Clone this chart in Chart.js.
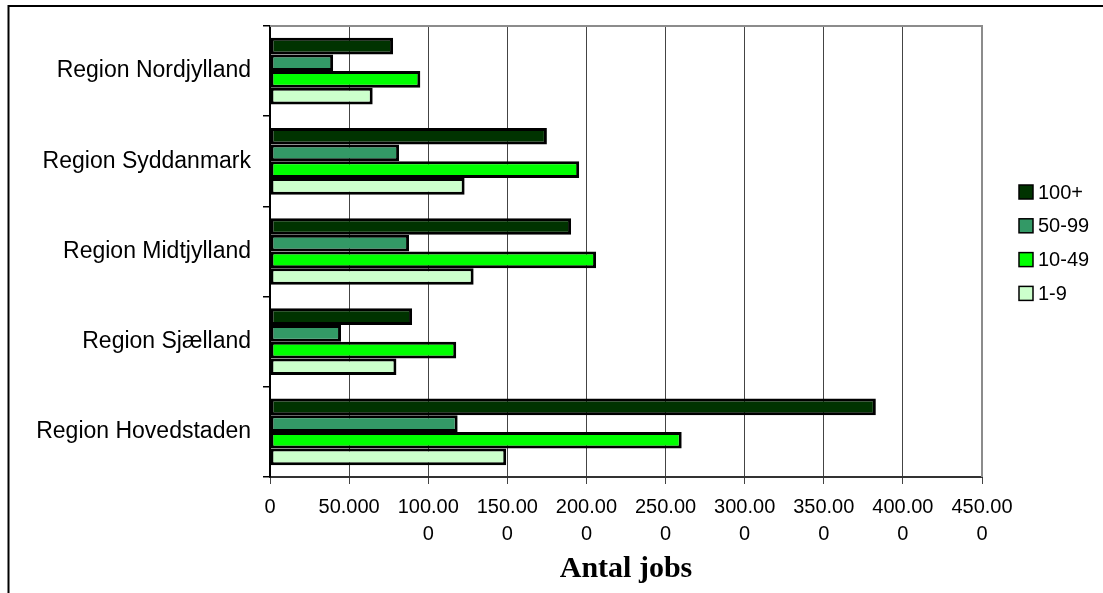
<!DOCTYPE html>
<html lang="da">
<head>
  <meta charset="UTF-8" />
  <title>Antal jobs fordelt på region og virksomhedsstørrelse</title>
  <script src="https://cdn.jsdelivr.net/npm/chart.js"></script>
  <style>
    html, body { margin: 0; padding: 0; background: #fff; }
    #wrap { width: 1103px; height: 593px; position: relative; }
  </style>
</head>
<body>
  <div id="wrap">
    <canvas id="jobsChart" width="1103" height="593"></canvas>
  </div>

  <script>
    // data
    const regions = ["Region Nordjylland", "Region Syddanmark", "Region Midtjylland", "Region Sjælland", "Region Hovedstaden"];
    const sizeLabels = ["100+", "50-99", "10-49", "1-9"];
    const jobs100 = [77800, 175000, 190300, 89800, 382900];
    const jobs50 = [39900, 81600, 87900, 44900, 118600];
    const jobs10 = [95000, 195400, 206100, 117700, 260200];
    const jobs1 = [64900, 123000, 128700, 79900, 149300];
    const tickLabels = ["0", "50.000", ["100.00", "0"], ["150.00", "0"], ["200.00", "0"], ["250.00", "0"],
                        ["300.00", "0"], ["350.00", "0"], ["400.00", "0"], ["450.00", "0"]];
    const colors = ["#003300", "#339966", "#00ff00", "#ccffcc"];

    const SANS = "'Liberation Sans', Arial, sans-serif";

    // frame lines, plot border and legend
    const decorations = {
      id: "decorations",
      beforeDraw(chart) {
        const ctx = chart.ctx;
        ctx.save();
        ctx.strokeStyle = "#000";
        ctx.lineWidth = 2;
        ctx.beginPath();
        ctx.moveTo(8.5, 593);
        ctx.lineTo(8.5, 6);
        ctx.lineTo(1103, 6);
        ctx.stroke();
        ctx.restore();
      },
      afterDraw(chart) {
        const ctx = chart.ctx;
        const a = chart.chartArea;
        ctx.save();
        ctx.strokeStyle = "#8c8c8c";
        ctx.lineWidth = 2;
        ctx.beginPath();
        ctx.moveTo(a.left, a.top);
        ctx.lineTo(a.right, a.top);
        ctx.lineTo(a.right, a.bottom);
        ctx.stroke();

        ctx.font = "20px " + SANS;
        ctx.textBaseline = "middle";
        chart.data.datasets.forEach((ds, i) => {
          const y = 192 + i * 33.8;
          ctx.fillStyle = ds.backgroundColor;
          ctx.fillRect(1019, y - 7, 14, 14);
          ctx.strokeStyle = "#000";
          ctx.lineWidth = 1.5;
          ctx.strokeRect(1019, y - 7, 14, 14);
          ctx.fillStyle = "#000";
          ctx.fillText(ds.label, 1038, y + 1);
        });
        ctx.restore();
      }
    };

    const series = [jobs100, jobs50, jobs10, jobs1];

    new Chart(document.getElementById("jobsChart"), {
      type: "bar",
      data: {
        labels: regions,
        datasets: series.map((values, i) => ({
          label: sizeLabels[i],
          data: values,
          backgroundColor: colors[i],
          borderColor: "#000",
          borderWidth: 3,
          borderSkipped: false,
          barPercentage: 1,
          categoryPercentage: 0.74
        }))
      },
      options: {
        indexAxis: "y",
        responsive: false,
        animation: false,
        layout: { padding: { top: 26, right: 121, left: 0, bottom: 0 } },
        plugins: {
          legend: { display: false },
          tooltip: { enabled: false }
        },
        scales: {
          x: {
            min: 0,
            max: 450000,
            ticks: {
              stepSize: 50000,
              padding: 10,
              maxRotation: 0,
              autoSkip: false,
              color: "#000",
              font: { family: SANS, size: 20, lineHeight: 1.35 },
              callback: (value, index) => tickLabels[index]
            },
            grid: { color: "#444", lineWidth: 1, tickLength: 7 },
            border: { color: "#333", width: 2 },
            title: {
              display: true,
              text: "Antal jobs",
              color: "#000",
              font: { family: "'Liberation Serif', 'Times New Roman', serif", size: 30, weight: "bold", lineHeight: 1.2 },
              padding: { top: 0, bottom: 6 }
            },
            afterFit: scale => { scale.height = 116; }
          },
          y: {
            ticks: {
              padding: 12,
              color: "#000",
              font: { family: SANS, size: 23 }
            },
            grid: { offset: true, drawOnChartArea: false, tickLength: 7, color: "#000", lineWidth: 1.5 },
            border: { color: "#000", width: 2 },
            afterFit: scale => { scale.width = 270; }
          }
        }
      },
      plugins: [decorations]
    });
  </script>
</body>
</html>
